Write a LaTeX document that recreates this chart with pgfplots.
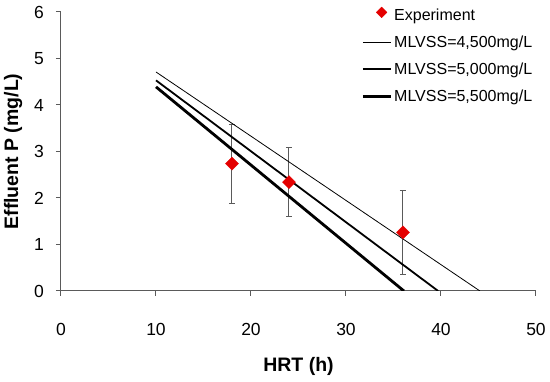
\documentclass[border=0pt]{standalone}
\usepackage{pgfplots}
\pgfplotsset{compat=1.18}
\usepackage{fontspec}
\setmainfont{Liberation Sans}
\definecolor{expred}{RGB}{228,0,0}
\definecolor{axgray}{RGB}{90,90,90}
\begin{document}
\begin{tikzpicture}
\path[use as bounding box] (-61pt,-91pt) rectangle (489pt,291pt);
\begin{axis}[
  anchor=south west, at={(0pt,0pt)},
  scale only axis, width=475pt, height=279pt,
  xmin=0, xmax=50, ymin=0, ymax=6,
  xtick={0,10,...,50}, ytick={0,1,...,6},
  axis x line=bottom, axis y line=left,
  axis line style={-, axgray, line width=1pt},
  tick style={axgray, line width=1pt},
  tick align=outside, major tick length=5pt,
  /pgf/number format/assume math mode=true,
  tick label style={font=\fontsize{17.5}{20}\selectfont},
  xticklabel style={yshift=-23.5pt},
  yticklabel style={xshift=-8.5pt},
  xlabel={\textbf{HRT (h)}}, ylabel={\textbf{Effluent P (mg/L)}},
  label style={font=\fontsize{19.5}{22}\selectfont},
  xlabel style={at={(axis description cs:0.5,-0.272)}, anchor=center},
  ylabel style={at={(axis description cs:-0.101,0.5)}, anchor=center},
  legend cell align=left,
  legend style={draw=none, fill=none, at={(axis cs:31.6,6.12)}, anchor=north west,
    font=\fontsize{16}{18}\selectfont, row sep=10pt, inner sep=0pt},
  legend image code/.code={\draw[#1] (0pt,0pt) -- (28pt,0pt);},
]
\addplot[only marks, forget plot, mark=square*, mark options={rotate=45, fill=expred, draw=expred}, mark size=4.6pt,
  error bars/.cd, y dir=both, y explicit,
  error bar style={axgray, line width=1pt},
  error mark options={axgray, rotate=90, mark size=3pt, line width=1pt}]
  coordinates {
  (18,2.74) +- (0,0.85)
  (24,2.34) +- (0,0.745)
  (36,1.26) +- (0,0.895)
  };
\addlegendimage{legend image code/.code={\node[draw=expred, fill=expred, rotate=45, minimum size=7.5pt, inner sep=0pt] at (16pt,0pt) {};}}
\addlegendentry{Experiment}
\addplot[black, line width=0.8pt, forget plot] coordinates {(10,4.71) (44.1,0)};
\addlegendimage{black, line width=0.8pt}
\addlegendentry{MLVSS=4,500mg/L}
\addplot[black, line width=1.8pt, forget plot] coordinates {(10,4.53) (39.7,0)};
\addlegendimage{black, line width=1.8pt}
\addlegendentry{MLVSS=5,000mg/L}
\addplot[black, line width=2.8pt, forget plot] coordinates {(10,4.39) (36.1,0)};
\addlegendimage{black, line width=2.8pt}
\addlegendentry{MLVSS=5,500mg/L}
\end{axis}
\end{tikzpicture}
\end{document}
